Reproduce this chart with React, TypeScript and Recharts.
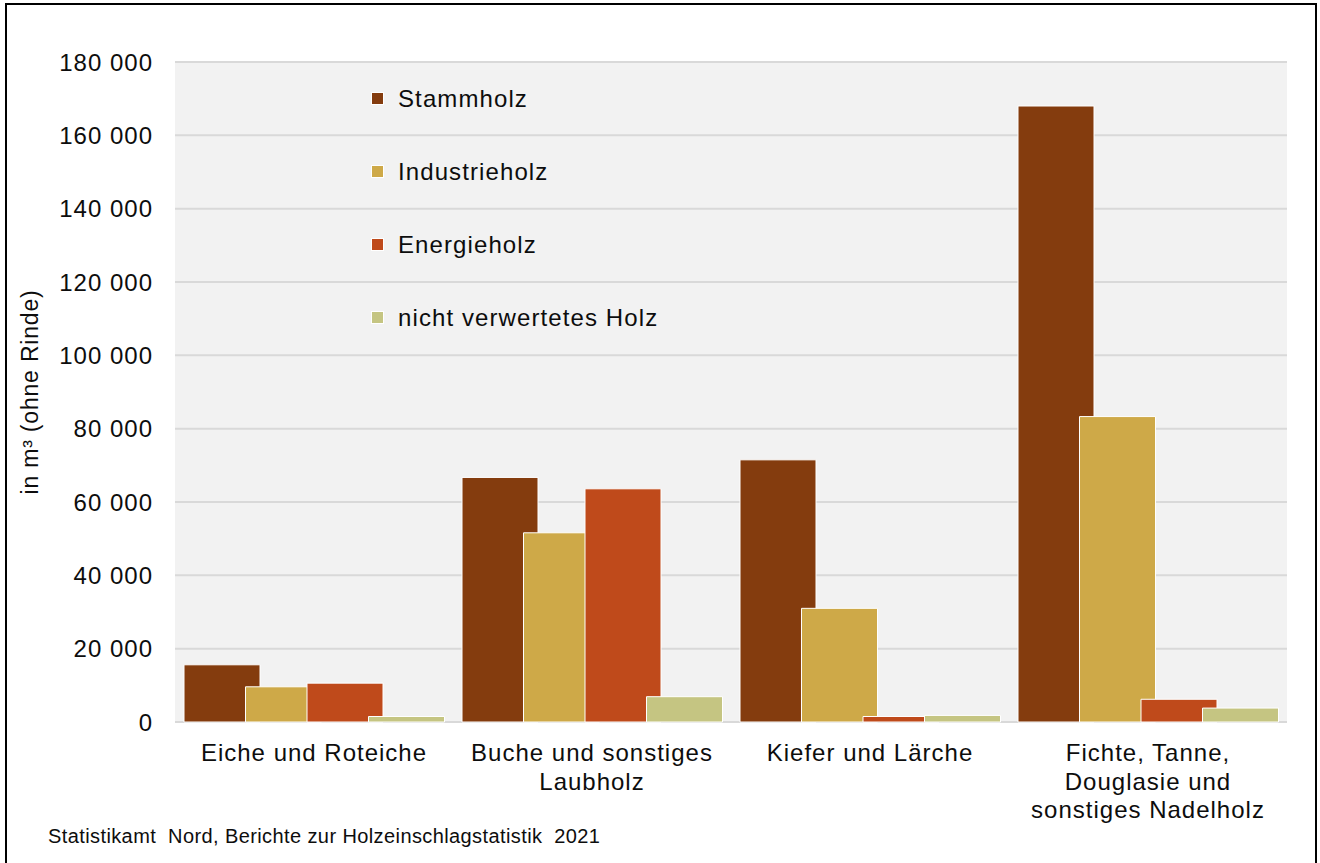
import React from "react";
import { BarChart, Bar, XAxis, YAxis, CartesianGrid, Legend } from "recharts";

const categories = [
  "Eiche und Roteiche",
  "Buche und sonstiges\nLaubholz",
  "Kiefer und Lärche",
  "Fichte, Tanne,\nDouglasie und\nsonstiges Nadelholz",
];

const seriesNames = ["Stammholz", "Industrieholz", "Energieholz", "nicht verwertetes Holz"];
const seriesColors = ["#843c0e", "#cea948", "#bf4a1b", "#c5c582"];

const stammholz = [15600, 66700, 71500, 168000];
const industrieholz = [9600, 51600, 31000, 83300];
const energieholz = [10600, 63600, 1500, 6200];
const nichtVerwertet = [1500, 6900, 1800, 3800];

const yTicks = [0, 20000, 40000, 60000, 80000, 100000, 120000, 140000, 160000, 180000];
const edgeTicks = [0, 1, 2, 3, 4];

const seriesValues = [stammholz, industrieholz, energieholz, nichtVerwertet];
const data = categories.map((name, i) => {
  const row: Record<string, string | number> = { name };
  seriesNames.forEach((s, j) => {
    row[s] = seriesValues[j][i];
  });
  return row;
});

const FONT = "'Liberation Sans', Arial, sans-serif";

const fmt = (v: number) => String(v).replace(/\B(?=(\d{3})+(?!\d))/g, " ");

function CategoryTick(props: any) {
  const { x, y, payload } = props;
  const lines = String(payload.value).split("\n");
  return (
    <text
      x={x}
      y={y}
      textAnchor="middle"
      fontFamily={FONT}
      fontSize={24}
      letterSpacing={1}
      fill="#0d0d0d"
    >
      {lines.map((l, i) => (
        <tspan key={i} x={x} dy={i === 0 ? 39 : 28.5}>
          {l}
        </tspan>
      ))}
    </text>
  );
}

function LegendBox() {
  return (
    <div style={{ fontFamily: FONT, fontSize: 24, letterSpacing: 1.1, color: "#0d0d0d" }}>
      {seriesNames.map((s, i) => (
        <div key={s} style={{ display: "flex", alignItems: "center", height: 73 }}>
          <span
            style={{
              width: 11,
              height: 11,
              background: seriesColors[i],
              border: "1px solid #fff",
              marginRight: 14,
              display: "inline-block",
            }}
          />
          <span>{s}</span>
        </div>
      ))}
    </div>
  );
}

export default function App() {
  return (
    <div
      style={{
        position: "absolute",
        left: 0,
        top: 0,
        width: 1320,
        height: 863,
        background: "#fff",
        overflow: "hidden",
      }}
    >
      <div
        style={{
          position: "absolute",
          left: 5,
          top: 3,
          width: 1312,
          height: 880,
          border: "2px solid #000",
          boxSizing: "border-box",
        }}
      />
      <div style={{ position: "absolute", left: 0, top: 0 }}>
        <BarChart
          width={1320}
          height={863}
          data={data}
          margin={{ top: 62, right: 33, left: 60, bottom: 41 }}
          barSize={76}
          barGap={-14.5}
        >
          <CartesianGrid
            vertical={false}
            stroke="#d9d9d9"
            strokeWidth={2}
            fill="#f2f2f2"
            fillOpacity={1}
          />
          <XAxis
            xAxisId="edges"
            type="number"
            domain={[0, 4]}
            ticks={edgeTicks}
            height={0}
            tick={() => <g />}
            tickSize={7}
            stroke="#d9d9d9"
            strokeWidth={2}
            allowDataOverflow
          />
          <XAxis
            dataKey="name"
            height={100}
            interval={0}
            axisLine={false}
            tickLine={false}
            tickSize={0}
            tickMargin={0}
            tick={<CategoryTick />}
          />
          <YAxis
            domain={[0, 180000]}
            ticks={yTicks}
            width={115}
            axisLine={false}
            tickLine={false}
            tickSize={0}
            tickMargin={22}
            tickFormatter={fmt}
            tick={{ fontFamily: FONT, fontSize: 24, letterSpacing: 1, fill: "#0d0d0d" }}
          />
          <Legend
            layout="vertical"
            align="center"
            verticalAlign="middle"
            wrapperStyle={{ left: 371, top: 62, width: 330 }}
            content={() => <LegendBox />}
          />
          {seriesNames.map((s, i) => (
            <Bar
              key={s}
              dataKey={s}
              fill={seriesColors[i]}
              stroke="#ffffff"
              strokeWidth={1}
              isAnimationActive={false}
            />
          ))}
        </BarChart>
      </div>
      <div
        style={{
          position: "absolute",
          left: 30,
          top: 392,
          transform: "translate(-50%, -50%) rotate(-90deg)",
          whiteSpace: "nowrap",
          fontFamily: FONT,
          fontSize: 23,
          letterSpacing: 0.8,
          color: "#0d0d0d",
        }}
      >
        in m³ (ohne Rinde)
      </div>
      <div
        style={{
          position: "absolute",
          left: 48,
          top: 825,
          whiteSpace: "pre",
          fontFamily: FONT,
          fontSize: 20,
          letterSpacing: 0.4,
          color: "#0d0d0d",
        }}
      >
        Statistikamt  Nord, Berichte zur Holzeinschlagstatistik  2021
      </div>
    </div>
  );
}
